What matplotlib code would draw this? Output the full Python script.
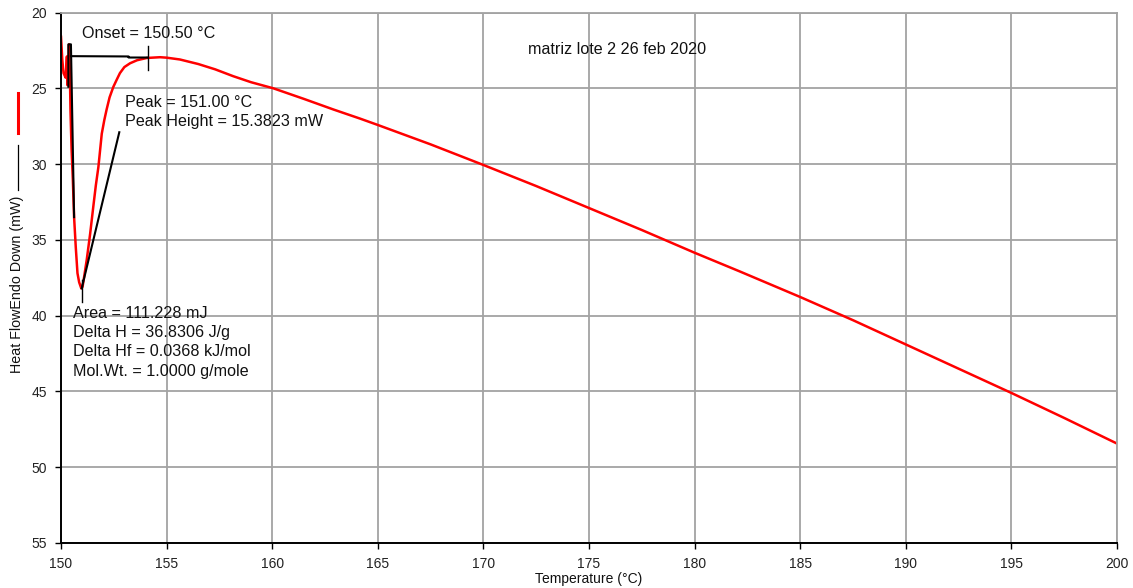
import matplotlib
matplotlib.use("Agg")
import matplotlib.pyplot as plt
from matplotlib.lines import Line2D

plt.rcParams['font.family'] = ['Liberation Sans', 'DejaVu Sans']

# ---- data ----
temp = [150.00, 150.06, 150.12, 150.22, 150.28, 150.31, 150.38, 150.42, 150.45,
        150.50, 150.56, 150.62, 150.70, 150.78, 150.86, 150.96, 151.02, 151.10,
        151.22, 151.38, 151.53, 151.65, 151.77, 151.93, 152.05, 152.16, 152.30,
        152.48, 152.65, 152.79, 153.00, 153.27, 153.60, 154.06, 154.69, 155.00,
        155.63, 156.50, 157.30, 158.15, 159.00, 160.05, 161.50, 162.90, 164.16,
        165.00, 167.50, 170.00, 172.50, 175.00, 177.50, 180.00, 182.15, 185.00,
        187.50, 190.00, 192.50, 195.00, 197.50, 200.00]
heat_flow = [21.6, 23.1, 24.0, 24.3, 22.9, 24.8, 22.1, 24.0, 26.5,
             29.0, 31.0, 33.5, 35.5, 37.2, 37.8, 38.2, 38.1, 37.4,
             36.3, 34.6, 32.8, 31.4, 30.2, 28.0, 27.1, 26.4, 25.6,
             24.9, 24.4, 24.0, 23.6, 23.35, 23.15, 23.0, 22.95, 22.98,
             23.1, 23.4, 23.75, 24.2, 24.6, 25.0, 25.7, 26.4, 27.0,
             27.42, 28.7, 30.06, 31.45, 32.9, 34.35, 35.85, 37.09, 38.77,
             40.3, 41.9, 43.5, 45.1, 46.75, 48.44]

# black construction lines (onset baseline, peak tangent)
onset_x = [150.35, 150.35, 150.47, 150.62]
onset_y = [24.9, 22.1, 22.1, 33.5]
baseline_x = [150.47, 153.2, 153.2, 154.1]
baseline_y = [22.88, 22.9, 22.97, 22.97]
onset_tick_x = [154.1, 154.1]
onset_tick_y = [22.2, 23.8]
peak_line_x = [150.98, 152.76]
peak_line_y = [38.2, 27.9]
peak_tick_x = [150.98, 150.98]
peak_tick_y = [37.65, 39.1]

onset_text = "Onset = 150.50 °C"
peak_text = "Peak = 151.00 °C\nPeak Height = 15.3823 mW"
area_text = ("Area = 111.228 mJ\nDelta H = 36.8306 J/g\n"
             "Delta Hf = 0.0368 kJ/mol\nMol.Wt. = 1.0000 g/mole")
title_text = "matriz lote 2 26 feb 2020"

x_ticks = [150, 155, 160, 165, 170, 175, 180, 185, 190, 195, 200]
y_ticks = [20, 25, 30, 35, 40, 45, 50, 55]

# ---- figure ----
fig = plt.figure(figsize=(11.33, 5.88), dpi=100)
ax = fig.add_axes([61/1133, 1 - 543/588, 1056/1133, 530.5/588])

grid_c = '#a3a3a3'
ax.set_xlim(150, 200)
ax.set_ylim(55, 20)
ax.set_xticks(x_ticks)
ax.set_yticks(y_ticks)
ax.grid(True, color=grid_c, linewidth=1.3)
ax.set_axisbelow(True)
for s in ['top', 'right']:
    ax.spines[s].set_color(grid_c)
    ax.spines[s].set_linewidth(1.3)
for s in ['left', 'bottom']:
    ax.spines[s].set_color('black')
    ax.spines[s].set_linewidth(1.4)
ax.tick_params(direction='out', length=4, width=1, labelsize=10, pad=6,
               labelcolor='#222222')

ax.plot(temp, heat_flow, color='#ff0000', linewidth=1.8, solid_joinstyle='round')

bk = dict(color='black', linewidth=1.5)
ax.plot(onset_x, onset_y, **bk)
ax.plot(baseline_x, baseline_y, **bk)
ax.plot(onset_tick_x, onset_tick_y, color='black', linewidth=1.0)
ax.plot(peak_line_x, peak_line_y, **bk)
ax.plot(peak_tick_x, peak_tick_y, color='black', linewidth=1.0)

fs = 11.6
tc = '#111111'
ax.text(150.98, 21.4, onset_text, fontsize=fs, va='center', ha='left', color=tc)
ax.text(153.03, 26.55, peak_text, fontsize=fs, va='center', ha='left',
        linespacing=1.35, color=tc)
ax.text(150.58, 41.76, area_text, fontsize=fs, va='center', ha='left',
        linespacing=1.35, color=tc)
ax.text(172.1, 22.46, title_text, fontsize=fs, va='center', ha='left', color=tc)

ax.set_xlabel('Temperature (°C)', fontsize=10, labelpad=1, color=tc)

# y label with legend line segments
fig.text(17.5/1133, 1 - 284/588, 'Heat FlowEndo Down (mW)', rotation=90,
         fontsize=10.3, ha='center', va='center', color=tc)
fig.add_artist(Line2D([17.5/1133, 17.5/1133], [1 - 93/588, 1 - 133/588],
                      color='#ff0000', linewidth=2.2, transform=fig.transFigure))
fig.add_artist(Line2D([17.5/1133, 17.5/1133], [1 - 145/588, 1 - 190/588],
                      color='black', linewidth=0.9, transform=fig.transFigure))

fig.savefig('out.png', dpi=100)
